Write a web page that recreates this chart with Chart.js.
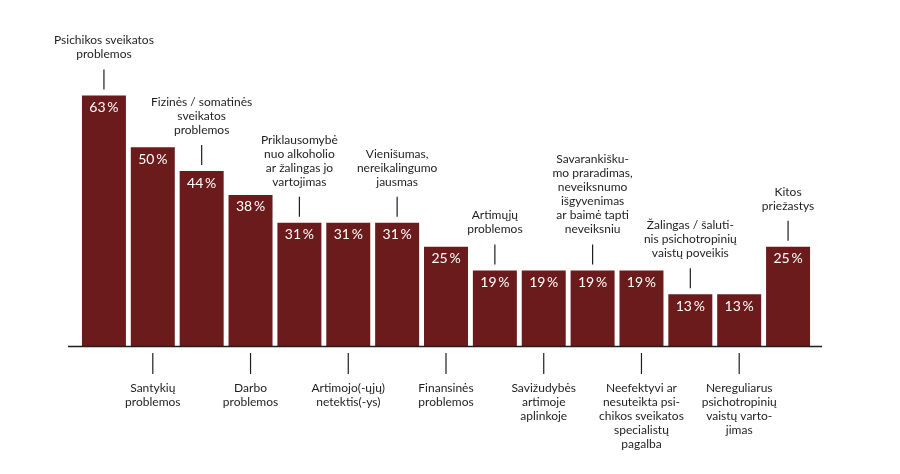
<!DOCTYPE html>
<html>
<head>
<meta charset="utf-8">
<script src="https://cdn.jsdelivr.net/npm/chart.js@4/dist/chart.umd.min.js"></script>
<style>
	html, body { margin: 0; padding: 0; background: #fff; }
	#wrap { width: 900px; height: 474px; position: relative; }
</style>
</head>
<body>
<div id="wrap"><canvas id="chart" width="900" height="474"></canvas></div>
<script>
const values = [63, 50, 44, 38, 31, 31, 31, 25, 19, 19, 19, 19, 13, 13, 25];

const labels = [
	['Psichikos sveikatos', 'problemos'],
	['Santykių', 'problemos'],
	['Fizinės / somatinės', 'sveikatos', 'problemos'],
	['Darbo', 'problemos'],
	['Priklausomybė', 'nuo alkoholio', 'ar žalingas jo', 'vartojimas'],
	['Artimojo(-ųjų)', 'netektis(-ys)'],
	['Vienišumas,', 'nereikalingumo', 'jausmas'],
	['Finansinės', 'problemos'],
	['Artimųjų', 'problemos'],
	['Savižudybės', 'artimoje', 'aplinkoje'],
	['Savarankišku-', 'mo praradimas,', 'neveiksnumo', 'išgyvenimas', 'ar baimė tapti', 'neveiksniu'],
	['Neefektyvi ar', 'nesuteikta psi-', 'chikos sveikatos', 'specialistų', 'pagalba'],
	['Žalingas / šaluti-', 'nis psichotropinių', 'vaistų poveikis'],
	['Nereguliarus', 'psichotropinių', 'vaistų varto-', 'jimas'],
	['Kitos', 'priežastys']
];

// even index -> label above the bar, odd -> below the baseline
const labelSide = values.map((_, i) => i % 2 === 0 ? 'top' : 'bottom');

const BAR = '#6b1b1b';
const INK = '#1e1e1e';
const FONT = 'Lato, "Noto Sans", sans-serif';

const annotate = {
	id: 'annotate',
	afterDatasetsDraw(chart) {
		const ctx = chart.ctx;
		const meta = chart.getDatasetMeta(0);
		const base = chart.scales.y.getPixelForValue(0);
		ctx.save();
		// baseline
		ctx.strokeStyle = INK;
		ctx.lineWidth = 1.5;
		ctx.beginPath();
		ctx.moveTo(68, base + 0.5);
		ctx.lineTo(822, base + 0.5);
		ctx.stroke();

		ctx.textAlign = 'center';
		ctx.textBaseline = 'middle';
		meta.data.forEach((bar, i) => {
			const x = bar.x;
			// value inside bar
			ctx.fillStyle = '#fff';
			ctx.font = '14px ' + FONT;
			ctx.fillText(values[i] + '\u2009%', x, bar.y + 12);

			ctx.fillStyle = INK;
			ctx.strokeStyle = INK;
			ctx.lineWidth = 1.2;
			ctx.font = '12px ' + FONT;
			const lines = labels[i];
			ctx.beginPath();
			if (labelSide[i] === 'top') {
				ctx.moveTo(x, bar.y - 6);
				ctx.lineTo(x, bar.y - 26);
				ctx.stroke();
				const last = bar.y - 41;
				lines.forEach((t, k) => {
					ctx.fillText(t, x, last - (lines.length - 1 - k) * 14);
				});
			} else {
				ctx.moveTo(x, base + 7);
				ctx.lineTo(x, base + 28);
				ctx.stroke();
				lines.forEach((t, k) => {
					ctx.fillText(t, x, base + 42 + k * 14);
				});
			}
		});
		ctx.restore();
	}
};

new Chart(document.getElementById('chart'), {
	type: 'bar',
	data: {
		labels: labels.map(l => l.join(' ')),
		datasets: [{
			data: values,
			backgroundColor: BAR,
			borderWidth: 0,
			barPercentage: 0.9,
			categoryPercentage: 1
		}]
	},
	options: {
		responsive: false,
		animation: false,
		layout: { padding: { left: 79.5, right: 87.5, top: 28, bottom: 128 } },
		plugins: { legend: { display: false }, tooltip: { enabled: false } },
		scales: {
			x: { display: false },
			y: { display: false, min: 0, max: 80 }
		}
	},
	plugins: [annotate]
});
</script>
</body>
</html>
